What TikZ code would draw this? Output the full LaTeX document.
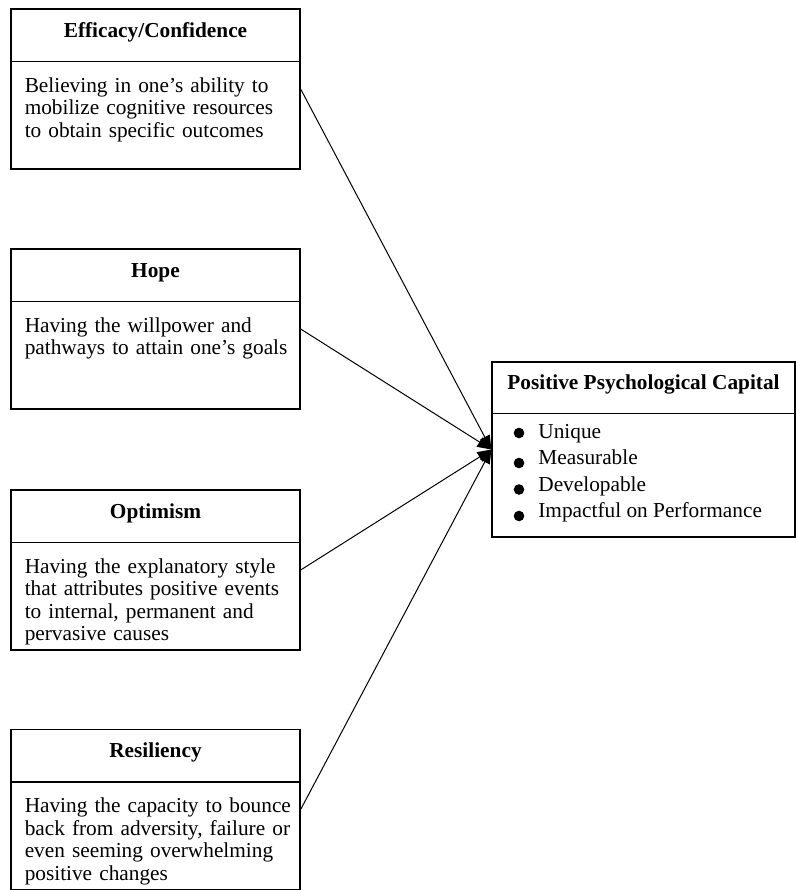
\documentclass[tikz,border=0pt]{standalone}
\usepackage{fontspec}
\setmainfont{Liberation Serif}
\usetikzlibrary{arrows.meta,positioning}

\newcommand{\diagfont}{\fontsize{10.65}{11.25}\selectfont}

\tikzset{
  factor/.style={draw, line width=0.65pt, minimum width=144.5pt, minimum height=80pt, inner sep=0pt},
  capital/.style={draw, line width=0.65pt, minimum width=151.5pt, minimum height=87.5pt, inner sep=0pt},
  head/.style={font=\diagfont\bfseries, anchor=base, inner sep=0pt},
  desc/.style={font=\diagfont, align=left, text width=140pt, anchor=base west, inner sep=0pt},
  item/.style={font=\diagfont, anchor=base west, inner sep=0pt},
  link/.style={line width=0.5pt, -{Triangle[length=7pt,width=5.5pt]}},
}

\begin{document}
\begin{tikzpicture}[x=0.5pt, y=-0.5pt]
			\useasboundingbox (0,0) rectangle (796,890);
			% Four factors
			\node[factor] (eff) at (155.5,89) {};
			\node[head] (effT) at ([yshift=-14.5pt]eff.north) {Efficacy/Confidence};
			\node[desc] (effD) at ([xshift=7pt,yshift=-42pt]eff.north west) {Believing in one’s ability to\\mobilize cognitive resources\\to obtain specific outcomes};
			\node[factor] (hope) at (155.5,329) {};
			\node[head] (hopeT) at ([yshift=-14.5pt]hope.north) {Hope};
			\node[desc] (hopeD) at ([xshift=7pt,yshift=-42pt]hope.north west) {Having the willpower and\\pathways to attain one’s goals};
			\node[factor] (opt) at (155.5,570) {};
			\node[head] (optT) at ([yshift=-14.5pt]opt.north) {Optimism};
			\node[desc] (optD) at ([xshift=7pt,yshift=-42pt]opt.north west) {Having the explanatory style\\that attributes positive events\\to internal, permanent and\\pervasive causes};
			\node[factor] (res) at (155.5,809.5) {};
			\node[head] (resT) at ([yshift=-14.5pt]res.north) {Resiliency};
			\node[desc] (resD) at ([xshift=7pt,yshift=-42pt]res.north west) {Having the capacity to bounce\\back from adversity, failure or\\even seeming overwhelming\\positive changes};
			\foreach \n in {eff,hope,opt,res} {
			\draw[line width=0.65pt] ([yshift=-26.5pt]\n.north west) -- ([yshift=-26.5pt]\n.north east);
			}
			% PsyCap
			\node[capital] (pcap) at (643.5,449.5) {};
			\node[head] (pcapT) at ([yshift=-14pt]pcap.north) {Positive Psychological Capital};
			\draw[line width=0.65pt] ([yshift=-26pt]pcap.north west) -- ([yshift=-26pt]pcap.north east);
			\foreach \i/\txt/\dy in {1/Unique/5,2/Measurable/1.5,3/Developable/1.5,4/Impactful on Performance/1.5} {
			\node[item] (pc\i) at (538,{438+26.5*(\i-1)}) {\txt};
			\fill ([xshift=-9.5pt,yshift=\dy*0.5pt]pc\i.base west) circle (2.65pt);
			}
			% Links
			\foreach \n in {eff,hope,opt,res} {
			\draw[link] (\n.east) -- (pcap.west);
			}
		\end{tikzpicture}
\end{document}
